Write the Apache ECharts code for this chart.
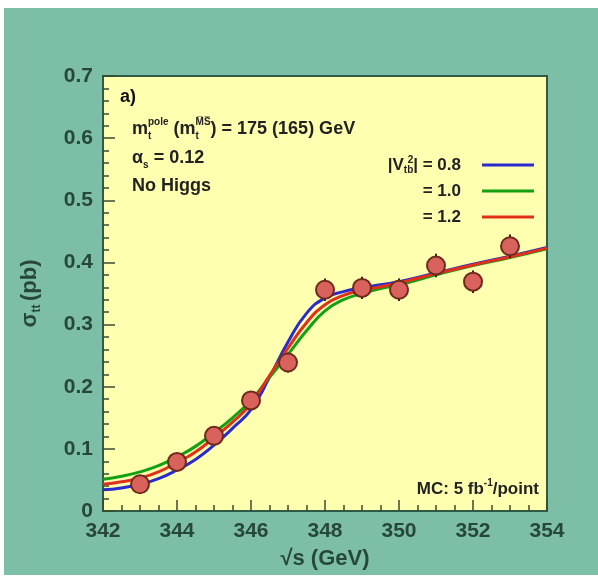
<!DOCTYPE html>
<html><head><meta charset="utf-8">
<script src="https://cdn.jsdelivr.net/npm/echarts@6/dist/echarts.min.js"></script>
<style>html,body{margin:0;padding:0;background:#fff;}#c{position:absolute;left:4px;top:8px;width:594px;height:567px;}</style>
</head><body><div id="c"></div>
<script>
// sqrt(s) in GeV for theory curves
const xCurve   = [342, 342.5, 343, 343.5, 344, 344.5, 345, 345.5, 346, 346.5, 347, 347.5, 348, 348.5, 349, 349.5, 350, 351, 352, 353, 354];
const sigmaV08 = [0.034, 0.037, 0.043, 0.052, 0.066, 0.083, 0.106, 0.133, 0.163, 0.215, 0.272, 0.318, 0.343, 0.353, 0.359, 0.364, 0.369, 0.383, 0.397, 0.410, 0.424];
const sigmaV10 = [0.051, 0.056, 0.063, 0.073, 0.087, 0.104, 0.126, 0.150, 0.178, 0.215, 0.252, 0.290, 0.322, 0.340, 0.350, 0.358, 0.364, 0.380, 0.395, 0.408, 0.422];
const sigmaV12 = [0.043, 0.047, 0.053, 0.063, 0.078, 0.095, 0.118, 0.143, 0.173, 0.218, 0.262, 0.303, 0.332, 0.347, 0.355, 0.361, 0.367, 0.382, 0.396, 0.409, 0.423];
// MC points
const xPoints  = [343, 344, 345, 346, 347, 348, 349, 350, 351, 352, 353];
const sigmaMC  = [0.043, 0.079, 0.121, 0.178, 0.239, 0.356, 0.359, 0.356, 0.395, 0.369, 0.426];
const sigmaErr = [0.008, 0.010, 0.012, 0.014, 0.016, 0.018, 0.018, 0.018, 0.019, 0.018, 0.019];
const seriesNames  = ['V08', 'V10', 'V12'];
const legendLabels = ['|V{sb|tb}{sp|2}| = 0.8', '= 1.0', '= 1.2'];
const lineColors   = ['#2a2ad0', '#13a013', '#e0301a'];

const dark = '#27473a';
const font = 'Liberation Sans, Arial, Helvetica, sans-serif';
const chart = echarts.init(document.getElementById('c'));

function curve(xs, ys) { return xs.map((x, i) => [x, ys[i]]); }

const option = {
  backgroundColor: '#7cbfa6',
  animation: false,
  grid: { left: 99, top: 68, width: 444, height: 436, show: true, backgroundColor: '#ffffb0', borderColor: '#2f5b46', borderWidth: 2 },
  xAxis: {
    type: 'value', min: 342, max: 354, interval: 2,
    name: '√s (GeV)', nameLocation: 'middle', nameGap: 37,
    nameTextStyle: { color: dark, fontSize: 22, fontWeight: 'bold', fontFamily: font },
    axisLine: { lineStyle: { color: '#2f5b46', width: 2 } },
    axisTick: { inside: true, length: 11, lineStyle: { color: '#3a4a2a', width: 1.5 } },
    minorTick: { show: true, splitNumber: 4, length: 6, lineStyle: { color: '#3a4a2a', width: 1.5 } },
    splitLine: { show: false },
    axisLabel: { color: dark, fontSize: 21, fontWeight: 'bold', fontFamily: font, margin: 10 }
  },
  yAxis: {
    type: 'value', min: 0, max: 0.7, interval: 0.1,
    name: '{s|σ}{sb|tt} {s|(pb)}', nameLocation: 'middle', nameGap: 60, nameRotate: 90,
    nameTextStyle: { color: dark, fontFamily: font,
      rich: {
        s: { fontSize: 22, fontWeight: 'bold', color: dark, fontFamily: font, lineHeight: 26, verticalAlign: 'middle' },
        sb: { fontSize: 12, fontWeight: 'bold', color: dark, fontFamily: font, lineHeight: 12, verticalAlign: 'bottom' }
      } },
    axisLine: { lineStyle: { color: '#2f5b46', width: 2 } },
    axisTick: { inside: true, length: 12, lineStyle: { color: '#3a4a2a', width: 1.5 } },
    minorTick: { show: true, splitNumber: 5, length: 6, lineStyle: { color: '#3a4a2a', width: 1.5 } },
    splitLine: { show: false },
    axisLabel: { color: dark, fontSize: 21, fontWeight: 'bold', fontFamily: font, margin: 10,
      formatter: v => v === 0 ? '0' : v.toFixed(1) }
  },
  legend: {
    data: seriesNames, orient: 'vertical', align: 'right', right: 64, top: 147, padding: 0,
    icon: 'rect', itemWidth: 52, itemHeight: 3, itemGap: 6,
    formatter: name => legendLabels[seriesNames.indexOf(name)],
    textStyle: { color: '#222', fontSize: 17, fontWeight: 'bold', fontFamily: font, lineHeight: 20, padding: [0, 16, 0, 0],
      rich: {
        sp: { fontSize: 10, fontWeight: 'bold', color: '#222', lineHeight: 10, verticalAlign: 'top', width: 0 },
        sb: { fontSize: 10, fontWeight: 'bold', color: '#222', lineHeight: 10, verticalAlign: 'bottom' }
      } }
  },
  graphic: [
    { type: 'text', left: 116, top: 80, style: { text: 'a)', fill: '#111', font: 'bold 18px ' + font } },
    { type: 'text', left: 128, top: 109, style: {
        text: '{m|m}{sb|t}{sp|pole}{m| (m}{sb|t}{sp|M̅S̅}{m|) = 175 (165) GeV}',
        rich: {
          m: { fontSize: 18, fontWeight: 'bold', fill: '#222', fontFamily: font, lineHeight: 24, verticalAlign: 'middle' },
          sp: { fontSize: 10, fontWeight: 'bold', fill: '#222', fontFamily: font, lineHeight: 10, verticalAlign: 'top' },
          sb: { fontSize: 10, fontWeight: 'bold', fill: '#222', fontFamily: font, lineHeight: 10, verticalAlign: 'bottom', width: 0 }
        } } },
    { type: 'text', left: 128, top: 141, style: {
        text: '{m|α}{sb|s}{m| = 0.12}',
        rich: {
          m: { fontSize: 18, fontWeight: 'bold', fill: '#222', fontFamily: font, lineHeight: 24, verticalAlign: 'middle' },
          sb: { fontSize: 10, fontWeight: 'bold', fill: '#222', fontFamily: font, lineHeight: 10, verticalAlign: 'bottom' }
        } } },
    { type: 'text', left: 128, top: 169, style: { text: 'No Higgs', fill: '#222', font: 'bold 18px ' + font } },
    { type: 'text', right: 59, top: 470, style: {
        text: '{m|MC: 5 fb}{sp|-1}{m|/point}',
        rich: {
          m: { fontSize: 17, fontWeight: 'bold', fill: '#222', fontFamily: font, lineHeight: 22, verticalAlign: 'middle' },
          sp: { fontSize: 10, fontWeight: 'bold', fill: '#222', fontFamily: font, lineHeight: 10, verticalAlign: 'top' }
        } } }
  ],
  series: [
    ...seriesNames.map((n, i) => ({
      name: n, type: 'line', smooth: true, symbol: 'none', z: 2,
      data: curve(xCurve, [sigmaV08, sigmaV10, sigmaV12][i]),
      lineStyle: { color: lineColors[i], width: 3 }, itemStyle: { color: lineColors[i] }
    })),
    { type: 'custom', z: 3,
      data: xPoints.map((x, i) => [x, sigmaMC[i], sigmaErr[i]]),
      renderItem: (params, api) => {
        const x = api.value(0), y = api.value(1), e = api.value(2);
        const a = api.coord([x, y + e]), b = api.coord([x, y - e]);
        return { type: 'line', shape: { x1: a[0], y1: a[1], x2: b[0], y2: b[1] }, style: { stroke: '#3a1a10', lineWidth: 2 } };
      } },
    { type: 'scatter', z: 4, symbol: 'circle', symbolSize: 18,
      data: xPoints.map((x, i) => [x, sigmaMC[i]]),
      itemStyle: { color: '#d9625c', borderColor: '#6e2a1c', borderWidth: 2, opacity: 1 } }
  ]
};
chart.setOption(option);
</script></body></html>
